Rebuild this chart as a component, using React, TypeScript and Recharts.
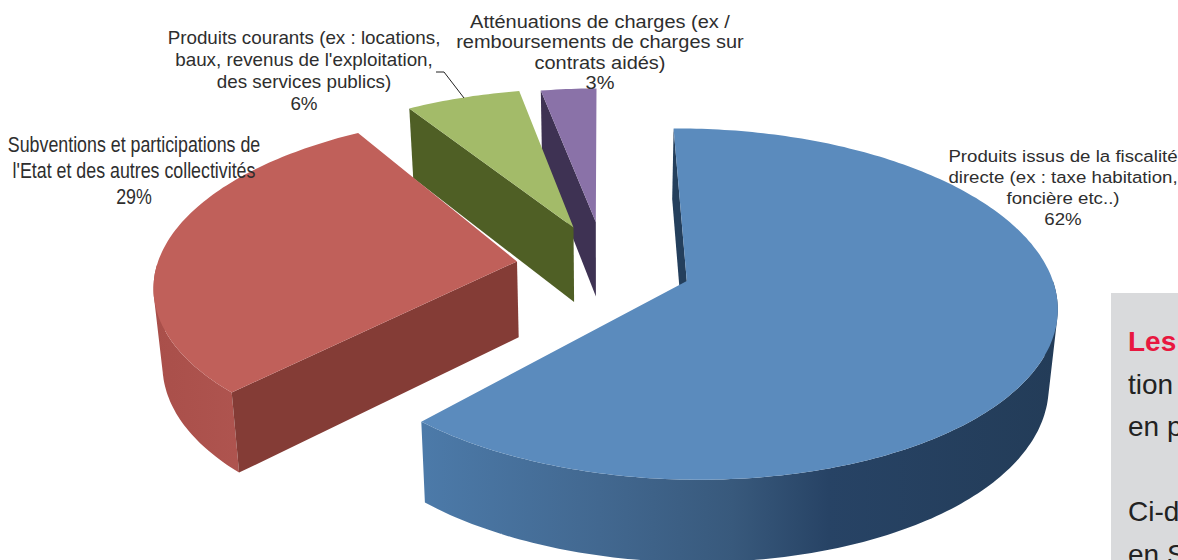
import { PieChart, Pie } from 'recharts'

// Values, largest slice last so that the back slices are painted first
const categories = [
  'Attenuations',
  'Produits courants',
  'Subventions',
  'Fiscalite',
]
const values = [3, 6, 29, 62]
const topColors = ['#8a72a8', '#a3bb69', '#c0605a', '#5b8bbd']
const sideColors = ['#3e3253', '#4f5f25', '#843c36', '#243f5c']

const labelLines = [
  ['Atténuations de charges (ex /', 'remboursements de charges sur', 'contrats aidés)'],
  ['Produits courants (ex : locations,', "baux, revenus de l'exploitation,", 'des services publics)'],
  ['Subventions et participations de', "l'Etat et des autres collectivités"],
  ['Produits issus de la fiscalité', 'directe (ex : taxe habitation,', 'foncière etc..)'],
]

const boxLines = ['tion', 'en p', '', 'Ci-d', 'en S']

const chartData = categories.map((name, i) => ({
  name,
  value: values[i],
  fill: topColors[i],
  side: sideColors[i],
  lines: labelLines[i],
}))

// 3D look of the pie
const PERSPECTIVE = 0.13
const TILT = 0.466
const DEPTH = 76
const BASE_SHRINK = 0.98

// explode: pull-out distance, dir: shift of the pull-out direction,
// twist: small rotation of the slice, radius: relative radius
const SLICE_3D: Record<
  string,
  { explode: number; dir: number; twist: number; radius: number }
> = {
  Attenuations: { explode: 0.27, dir: -1, twist: 0, radius: 0.95 },
  'Produits courants': { explode: 0.25, dir: -2, twist: 0, radius: 0.98 },
  Subventions: { explode: 0.24, dir: 0, twist: -1.2, radius: 0.995 },
  Fiscalite: { explode: 0.245, dir: 0, twist: 0.6, radius: 1 },
}

const RIM_STOPS: Record<string, [number, string][]> = {
  Fiscalite: [
    [0, '#4c7aa9'],
    [0.28, '#426890'],
    [0.49, '#38597c'],
    [0.64, '#274365'],
    [1, '#233c58'],
  ],
  Subventions: [
    [0, '#a94f4a'],
    [1, '#b65b56'],
  ],
}

type Pt = [number, number, number]

function PieSlice3D(props: any) {
  const { cx, cy, outerRadius, payload } = props
  const name = payload.name
  const look = SLICE_3D[name]
  const startAngle = props.startAngle + look.twist
  const endAngle = props.endAngle + look.twist
  const rad = (a: number) => (a * Math.PI) / 180
  const mid = rad((startAngle + endAngle) / 2 + look.dir)
  const ox = Math.cos(mid) * look.explode
  const oy = -Math.sin(mid) * look.explode

  const project = (u: number, v: number): Pt => {
    const w = 1 - PERSPECTIVE * v
    return [cx + (outerRadius * u) / w, cy + (outerRadius * TILT * v) / w, v]
  }
  const onRim = (a: number, r = look.radius) =>
    project(ox + Math.cos(rad(a)) * r, oy - Math.sin(rad(a)) * r)
  const below = (p: Pt): Pt => [
    cx + (p[0] - cx) * BASE_SHRINK,
    p[1] + DEPTH + 6 * p[2],
    p[2],
  ]
  const toPath = (pts: Pt[]) =>
    'M' + pts.map((p) => `${p[0].toFixed(1)},${p[1].toFixed(1)}`).join('L') + 'Z'

  const apex = project(ox, oy)
  const steps = Math.max(2, Math.ceil(Math.abs(endAngle - startAngle)))
  const rim: Pt[] = []
  for (let i = 0; i <= steps; i++) {
    rim.push(onRim(startAngle + ((endAngle - startAngle) * i) / steps))
  }

  // outer wall: one quad per step, front facing part of the rim only.
  // All quads get the same winding so overlaps near the fold do not cancel out.
  let rimWall = ''
  for (let i = 0; i < steps; i++) {
    if (rim[i][2] >= oy && rim[i + 1][2] >= oy) {
      const quad = [rim[i], rim[i + 1], below(rim[i + 1]), below(rim[i])]
      let area = 0
      quad.forEach((p, j) => {
        const q = quad[(j + 1) % 4]
        area += p[0] * q[1] - q[0] * p[1]
      })
      rimWall += toPath(area < 0 ? quad.reverse() : quad)
    }
  }

  // only radial walls that face the viewer get drawn
  const inner = onRim((startAngle + endAngle) / 2, 0.5)
  const radialFacing = (b: Pt) => {
    const dx = b[0] - apex[0]
    const dy = b[1] - apex[1]
    let nx = dy
    let ny = -dx
    if (nx * (inner[0] - apex[0]) + ny * (inner[1] - apex[1]) > 0) {
      nx = -nx
      ny = -ny
    }
    return ny / Math.hypot(dx, dy) > 0.02
  }
  const radialWall = (b: Pt) => toPath([apex, b, below(b), below(apex)])

  const gradId = `rim-${name.replace(/\s/g, '')}`
  const stops = RIM_STOPS[name]
  const xs = rim.map((p) => p[0])

  return (
    <g>
      {stops && (
        <defs>
          <linearGradient
            id={gradId}
            gradientUnits="userSpaceOnUse"
            x1={Math.min(...xs)}
            x2={Math.max(...xs)}
            y1={0}
            y2={0}
          >
            {stops.map(([o, c]) => (
              <stop key={o} offset={o} stopColor={c} />
            ))}
          </linearGradient>
        </defs>
      )}
      {rimWall && <path d={rimWall} fill={stops ? `url(#${gradId})` : payload.side} />}
      {radialFacing(rim[0]) && <path d={radialWall(rim[0])} fill={payload.side} />}
      {radialFacing(rim[steps]) && (
        <path d={radialWall(rim[steps])} fill={payload.side} />
      )}
      <path d={toPath([apex, ...rim])} fill={payload.fill} />
    </g>
  )
}

const LABEL_STYLE: Record<
  string,
  { x: number; ys: number[]; size: number; stretch: number }
> = {
  Attenuations: { x: 600, ys: [28, 48, 69, 89], size: 18.5, stretch: 1.08 },
  'Produits courants': { x: 304, ys: [44, 66, 88, 110], size: 17.7, stretch: 1.063 },
  Subventions: { x: 134, ys: [152, 178, 204], size: 22, stretch: 0.81 },
  Fiscalite: { x: 1063, ys: [162, 183, 204, 225], size: 17.2, stretch: 1.086 },
}

function renderLabel(props: any) {
  const item = props.payload
  const style = LABEL_STYLE[item.name]
  const rows = [...item.lines, `${item.value}%`]
  return (
    <g key={item.name}>
      {item.name === 'Produits courants' && (
        <path d="M436,72L444,72L464,98" fill="none" stroke="#222" strokeWidth={1} />
      )}
      {rows.map((row: string, i: number) => (
        <text
          key={i}
          transform={`translate(${style.x},${style.ys[i]}) scale(${style.stretch},1)`}
          textAnchor="middle"
          fontFamily="Liberation Sans, Arial, sans-serif"
          fontSize={style.size}
          fill="#2e2e2e"
        >
          {row}
        </text>
      ))}
    </g>
  )
}

export default function App() {
  return (
    <div
      style={{
        position: 'absolute',
        left: 0,
        top: 0,
        width: 1178,
        height: 560,
        overflow: 'hidden',
        background: '#fff',
        fontFamily: 'Liberation Sans, Arial, sans-serif',
      }}
    >
      {/* Grey text box cut off by the picture edge */}
      <div
        style={{
          position: 'absolute',
          left: 1111,
          top: 293,
          width: 67,
          height: 267,
          background: '#d9dadc',
          overflow: 'hidden',
          fontSize: 28,
          lineHeight: '42.5px',
          color: '#222',
          paddingLeft: 17,
          paddingTop: 28,
          boxSizing: 'border-box',
          whiteSpace: 'nowrap',
        }}
      >
        <div style={{ color: '#e8173f', fontWeight: 700 }}>Les</div>
        {boxLines.map((line, i) => (
          <div key={i} style={{ height: 42.5 }}>
            {line}
          </div>
        ))}
      </div>
      <div style={{ position: 'absolute', left: 0, top: 0 }}>
        <PieChart width={1178} height={560} margin={{ top: 0, right: 0, bottom: 0, left: 0 }}>
          <Pie
            data={chartData}
            dataKey="value"
            cx={603}
            cy={266}
            innerRadius={0}
            outerRadius={362}
            startAngle={90}
            endAngle={450}
            stroke="none"
            shape={PieSlice3D}
            label={renderLabel}
            labelLine={false}
            isAnimationActive={false}
          />
        </PieChart>
      </div>
    </div>
  )
}
